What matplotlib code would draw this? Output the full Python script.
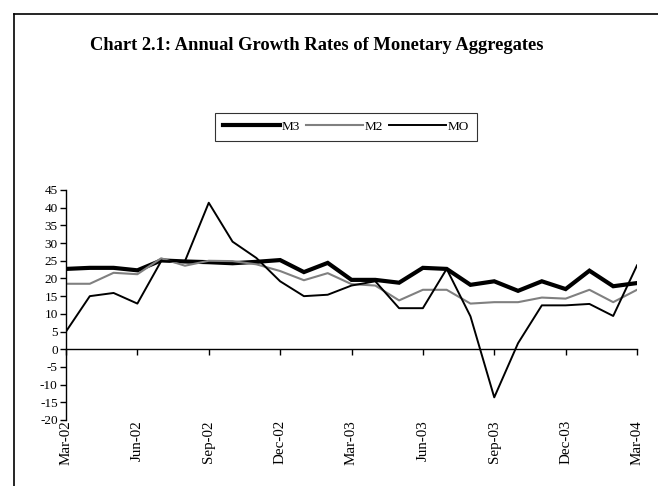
import matplotlib
matplotlib.use("Agg")
import matplotlib.pyplot as plt
from matplotlib.lines import Line2D

plt.rcParams['font.family'] = ['Liberation Serif', 'DejaVu Serif']
plt.rcParams['axes.unicode_minus'] = False

months = ["Mar-02", "Apr-02", "May-02", "Jun-02", "Jul-02", "Aug-02", "Sep-02", "Oct-02",
          "Nov-02", "Dec-02", "Jan-03", "Feb-03", "Mar-03", "Apr-03", "May-03", "Jun-03",
          "Jul-03", "Aug-03", "Sep-03", "Oct-03", "Nov-03", "Dec-03", "Jan-04", "Feb-04", "Mar-04"]
m3 = [22.7, 23.0, 23.0, 22.3, 25.1, 24.8, 24.6, 24.3, 24.7, 25.2, 21.8, 24.4, 19.6, 19.6,
      18.8, 23.0, 22.7, 18.2, 19.2, 16.5, 19.2, 17.0, 22.2, 17.8, 18.7]
m2 = [18.5, 18.5, 21.6, 21.2, 25.7, 23.6, 25.0, 24.9, 24.0, 22.1, 19.5, 21.5, 18.4, 18.0,
      13.8, 16.8, 16.8, 12.9, 13.3, 13.3, 14.6, 14.3, 16.8, 13.3, 16.8]
m0 = [5.0, 15.0, 15.9, 12.9, 24.9, 24.9, 41.4, 30.4, 25.8, 19.2, 15.0, 15.4, 18.0, 19.2,
      11.6, 11.6, 22.7, 9.3, -13.6, 1.7, 12.4, 12.4, 12.8, 9.4, 23.7]
tick_labels = ["Mar-02", "Jun-02", "Sep-02", "Dec-02", "Mar-03", "Jun-03", "Sep-03", "Dec-03", "Mar-04"]

fig = plt.figure(figsize=(6.58, 4.86), dpi=100)
ax = fig.add_axes([66/658, 1-420/486, (637-66)/658, (420-190)/486])

x = list(range(len(months)))
l3, = ax.plot(x, m3, color='black', lw=3.0, label='M3', solid_joinstyle='miter')
l2, = ax.plot(x, m2, color='#808080', lw=1.5, label='M2')
l0, = ax.plot(x, m0, color='black', lw=1.4, label='MO')

ax.set_xlim(0, len(months)-1)
ax.set_ylim(-20, 45)
ax.set_yticks(range(-20, 50, 5))
ax.set_xticks([months.index(t) for t in tick_labels])
ax.set_xticklabels(tick_labels)
ax.spines['bottom'].set_position(('data', 0))
ax.spines['top'].set_visible(False)
ax.spines['right'].set_visible(False)
ax.spines['left'].set_linewidth(1.0)
ax.spines['bottom'].set_linewidth(1.0)
ax.tick_params(axis='y', direction='out', length=4, width=1, labelsize=9.5, pad=2)
ax.tick_params(axis='x', direction='out', length=4, width=1, labelsize=10.8, pad=47,
               labelrotation=90)
for lab in ax.get_xticklabels():
    lab.set_verticalalignment('top')
    lab.set_horizontalalignment('center')

fig.text(90/658, 1-45/486, "Chart 2.1: Annual Growth Rates of Monetary Aggregates",
         fontsize=13.3, fontweight='bold', ha='left', va='center')

leg = fig.legend(handles=[l3, l2, l0], labels=['M3', 'M2', 'MO'], ncol=3,
                 loc='center', bbox_to_anchor=(346/658, 1-127/486),
                 frameon=True, fancybox=False, edgecolor='black', fontsize=9.5,
                 handlelength=4.3, handletextpad=0.1, columnspacing=0.5,
                 borderpad=0.6, borderaxespad=0)
leg.get_frame().set_linewidth(0.8)

# figure frame (top and left border)
fig.add_artist(Line2D([14/658, 14/658], [0, 1-14/486], transform=fig.transFigure,
                      color='black', lw=1.2))
fig.add_artist(Line2D([14/658, 1], [1-14/486, 1-14/486], transform=fig.transFigure,
                      color='black', lw=1.2))

fig.savefig("out.png", dpi=100)
